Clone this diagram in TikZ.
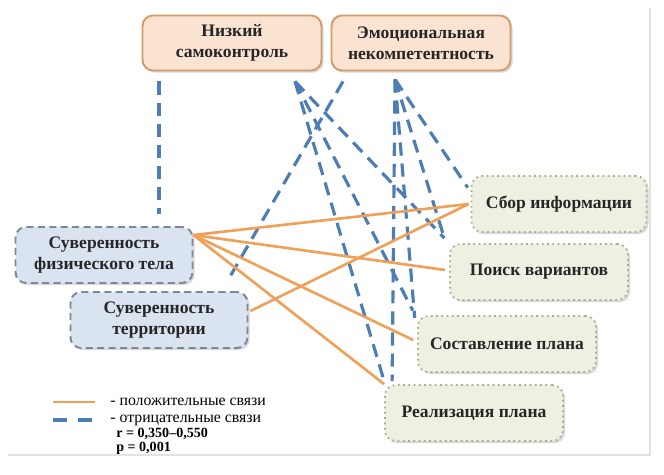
\documentclass[tikz,border=0pt]{standalone}
\usepackage{fontspec}
\setmainfont{Liberation Serif}
\usetikzlibrary{calc,shadows}

\definecolor{factorfill}{HTML}{FBE3D1}
\definecolor{factordraw}{HTML}{D49A6A}
\definecolor{sovfill}{HTML}{DAE4F1}
\definecolor{sovdraw}{HTML}{7C8799}
\definecolor{stepfill}{HTML}{EEF0E1}
\definecolor{stepdraw}{HTML}{A9AD8E}
\definecolor{poslink}{HTML}{F0A057}
\definecolor{neglink}{HTML}{4C7DB5}
\definecolor{framegray}{HTML}{E2E2E2}

\begin{document}
\begin{tikzpicture}[
	x=0.02cm, y=-0.02cm,
	box/.style={
		align=center, font=\bfseries, text=black!85,
		rounded corners=6pt, inner sep=2pt,
		drop shadow={opacity=0.3, shadow xshift=1.2pt, shadow yshift=-1.2pt}
	},
	factor box/.style={box, draw=factordraw, line width=1.1pt, fill=factorfill,
		minimum width=3.58cm, minimum height=1.1cm},
	sov box/.style={box, draw=sovdraw, line width=1.1pt, dash pattern=on 4pt off 2.5pt,
		fill=sovfill, minimum width=3.54cm, minimum height=1.12cm},
	stage box/.style={box, draw=stepdraw, line width=1pt, dotted,
		fill=stepfill, minimum width=3.56cm, minimum height=1.12cm},
	pos link/.style={draw=poslink, line width=1.5pt},
	neg link/.style={draw=neglink, line width=1.8pt, dash pattern=on 7.5pt off 4.5pt},
	legend node/.style={anchor=west, inner sep=0pt, font=\small}
	]
	\useasboundingbox (0,0) rectangle (664,475);
	\draw[framegray, line width=1pt] (650,8) -- (650,455) -- (8,455);
	
	% factors
	\node[factor box] (nizkij) at (232,43) {Низкий\\самоконтроль};
	\node[factor box] (emoc) at (421,43) {Эмоциональная\\некомпетентность};
	
	% sovereignty
	\node[sov box] (fiz) at (104,255) {Суверенность\\физического тела};
	\node[sov box] (terr) at (159,320) {Суверенность\\территории};
	
	% stages
	\node[stage box, minimum width=3.5cm] (sbor) at (559,204) {Сбор информации};
	\node[stage box] (poisk) at (539,272) {Поиск вариантов};
	\node[stage box] (sost) at (507,344) {Составление плана};
	\node[stage box] (real) at (474,413) {Реализация плана};
	
	% start points below the factors
	\coordinate (nizkij-a) at ($(nizkij.south)+(-73,10)$);
	\coordinate (nizkij-b) at ($(nizkij.south)+(63,10)$);
	\coordinate (emoc-a) at ($(emoc.south)+(-78,10)$);
	\coordinate (emoc-b) at ($(emoc.south)+(-26,8)$);
	\coordinate (fiz-out) at ($(fiz.north east)+(0,9)$);
	\coordinate (terr-out) at ($(terr.east)+(2,-9)$);
	
	% negative links
	\draw[neg link] (nizkij-a) -- ($(fiz.north)+(55,-12)$);
	\draw[neg link, shorten >=4pt] (nizkij-b) -- (poisk.north west);
	\draw[neg link, shorten >=3pt] (nizkij-b) -- ($(sost.north west)+(-2,0)$);
	\draw[neg link] (nizkij-b) -- ($(real.north west)+(0,-3)$);
	\draw[neg link] (emoc-a) -- ($(terr.north east)+(-21,-10)$);
	\draw[neg link, shorten >=3pt] (emoc-b) -- ($(sbor.west)+(0,-12)$);
	\draw[neg link, shorten >=4pt] (emoc-b) -- ($(poisk.north west)+(-2,4)$);
	\draw[neg link, shorten >=3pt] (emoc-b) -- ($(sost.north west)+(-2,8)$);
	\draw[neg link] (emoc-b) -- ($(real.north west)+(8,-3)$);
	
	% positive links
	\draw[pos link] (fiz-out) -- ($(sbor.west)+(-2,0)$);
	\draw[pos link] (fiz-out) -- ($(poisk.west)+(-4,-2)$);
	\draw[pos link] (fiz-out) -- ($(sost.west)+(-4,-4)$);
	\draw[pos link] (fiz-out) -- (real.north west);
	\draw[pos link] (terr-out) -- ($(sbor.west)+(-2,0)$);
	
	% legend
	\node[legend node] (leg-pos) at (110,402) {- положительные связи};
	\node[legend node] (leg-neg) at (110,420) {- отрицательные связи};
	\node[legend node, font=\footnotesize\bfseries] (leg-r) at (116,434) {r = 0,350–0,550};
	\node[legend node, font=\footnotesize\bfseries] (leg-p) at (116,448) {p = 0,001};
	\draw[pos link] ($(leg-pos.west)+(-57,0)$) -- ($(leg-pos.west)+(-15,0)$);
	\draw[neg link, dash pattern=on 8pt off 6pt] ($(leg-neg.west)+(-57,0)$) -- ($(leg-neg.west)+(-15,0)$);
\end{tikzpicture}
\end{document}
